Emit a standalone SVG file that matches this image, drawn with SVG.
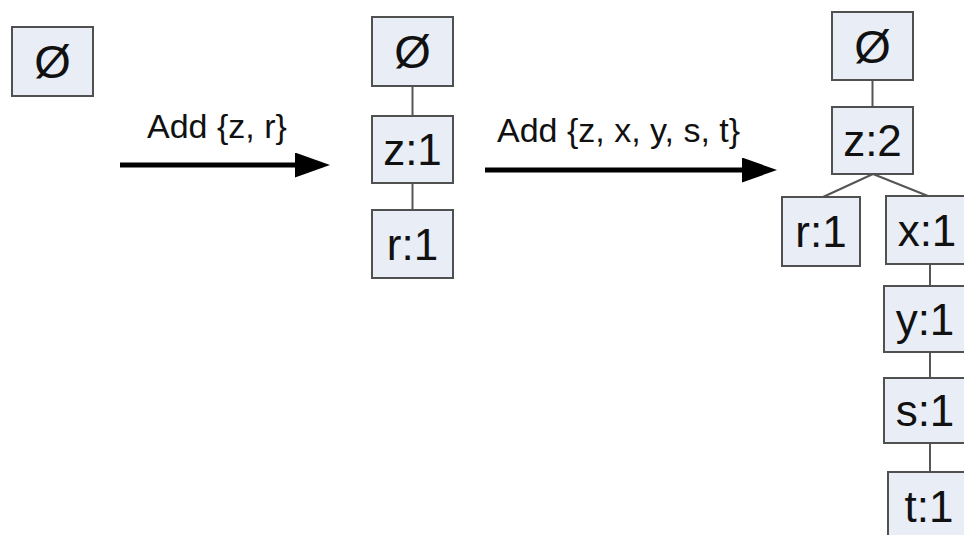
<svg xmlns="http://www.w3.org/2000/svg" width="964" height="535" viewBox="0 0 964 535">
<style>
.box{fill:#e8edf6;stroke:#505050;stroke-width:2}
.t{font-family:"Liberation Sans",Arial,sans-serif;font-size:44px;fill:#111;text-anchor:middle}
.e{font-size:47px}
.lbl{font-family:"Liberation Sans",Arial,sans-serif;font-size:34px;fill:#111}
.ln{stroke:#555;stroke-width:2;fill:none}
.ar{stroke:#000;stroke-width:5;fill:none}
</style>
<defs>
<marker id="ah" markerWidth="7" markerHeight="5" refX="0" refY="2.5" orient="auto" markerUnits="strokeWidth">
<path d="M0,0 L7,2.5 L0,5 Z" fill="#000"/>
</marker>
</defs>
<rect width="964" height="535" fill="#fff"/>
<g id="connectors">
<line class="ln" x1="412.5" y1="86" x2="412.5" y2="117"/>
<line class="ln" x1="412.5" y1="183" x2="412.5" y2="210"/>
<line class="ln" x1="872.5" y1="80" x2="872.5" y2="107"/>
<line class="ln" x1="873" y1="174" x2="823" y2="197"/>
<line class="ln" x1="873" y1="174" x2="928" y2="196"/>
<line class="ln" x1="930" y1="264" x2="930" y2="286"/>
<line class="ln" x1="930" y1="352" x2="930" y2="378"/>
<line class="ln" x1="930" y1="443" x2="930" y2="472"/>
<line class="ar" x1="120" y1="165" x2="295" y2="165" marker-end="url(#ah)"/>
<line class="ar" x1="485" y1="170" x2="742" y2="170" marker-end="url(#ah)"/>
<text class="lbl" x="147" y="138">Add {z, r}</text>
<text class="lbl" x="497" y="142">Add {z, x, y, s, t}</text>
</g>
<g id="n0"><rect class="box" x="12" y="27" width="81" height="69"/><text class="t e" x="52.5" y="78">Ø</text></g>
<g id="m0"><rect class="box" x="372" y="17" width="81" height="69"/><text class="t e" x="412.5" y="68">Ø</text></g>
<g id="m1"><rect class="box" x="372" y="116" width="81" height="67"/><text class="t" x="412.5" y="165">z:1</text></g>
<g id="m2"><rect class="box" x="372" y="210" width="81" height="68"/><text class="t" x="412.5" y="260">r:1</text></g>
<g id="r0"><rect class="box" x="832" y="12" width="81" height="68"/><text class="t e" x="872.5" y="63">Ø</text></g>
<g id="r1"><rect class="box" x="832" y="107" width="81" height="67"/><text class="t" x="872.5" y="156">z:2</text></g>
<g id="r2"><rect class="box" x="782" y="197" width="78" height="69"/><text class="t" x="821" y="247">r:1</text></g>
<g id="r3"><rect class="box" x="886" y="196" width="81" height="68"/><text class="t" x="927" y="246">x:1</text></g>
<g id="r4"><rect class="box" x="884" y="286" width="81" height="66"/><text class="t" x="925" y="335">y:1</text></g>
<g id="r5"><rect class="box" x="884" y="378" width="81" height="65"/><text class="t" x="925" y="426">s:1</text></g>
<g id="r6"><rect class="box" x="888" y="472" width="81" height="68"/><text class="t" x="929" y="522">t:1</text></g>
</svg>
